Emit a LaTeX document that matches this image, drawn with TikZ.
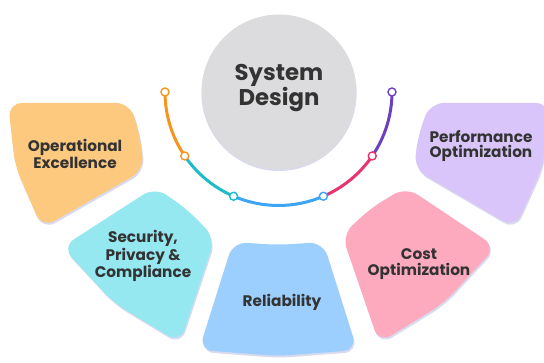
\documentclass[tikz,border=0pt]{standalone}
\usepackage{fontspec}
\setmainfont{Poppins}
\usetikzlibrary{calc}

\definecolor{ink}{HTML}{333333}
\definecolor{hubgray}{HTML}{DCDCDF}
\definecolor{softshadow}{HTML}{D8DAEE}
\definecolor{petalorange}{HTML}{FCC97F}
\definecolor{petalcyan}{HTML}{95E7F0}
\definecolor{petalblue}{HTML}{9CCEFE}
\definecolor{petalpink}{HTML}{FDA9BE}
\definecolor{petalpurple}{HTML}{D9C5F9}
\definecolor{arcorange}{HTML}{F7941D}
\definecolor{arcteal}{HTML}{1DBCC6}
\definecolor{arcblue}{HTML}{3DA5F2}
\definecolor{arcpink}{HTML}{E8336E}
\definecolor{arcpurple}{HTML}{6A3FC0}

\begin{document}
\begin{tikzpicture}[x=1pt,y=-1pt,
  petal/.style={rounded corners=14pt,
    preaction={fill=softshadow, transform canvas={xshift=1pt,yshift=-2pt}}},
  petaltext/.style={font=\bfseries\fontsize{15.3}{15.3}\selectfont, text=ink, align=center, inner sep=0pt},
  titletext/.style={font=\bfseries\fontsize{22.8}{24}\selectfont, text=ink, align=center, inner sep=0pt},
  track/.style={line width=3pt},
  knot/.style={circle, fill=white, line width=1.4pt, minimum size=8pt, inner sep=0pt}]

\useasboundingbox (0,0) rectangle (544,363);
\clip (0,0) rectangle (544,363);

% central hub
\fill[softshadow] (279,93.5) circle[radius=77.5];
\fill[hubgray] (279,92) circle[radius=77.5];

% five petals around the hub
\fill[petal, petalorange] (69,103) -- (130,103) -- (140,136) -- (144,170) -- (42,228) -- (15,166) -- (8,103) -- cycle;
\fill[petal, petalcyan] (108.5,217) -- (155,187) -- (188,210) -- (215,238) -- (180,343) -- (114,303) -- (62,247) -- cycle;
\fill[petal, petalblue] (216,296) -- (233,242) -- (278,245) -- (323,242) -- (357,350) -- (278,356) -- (199,350) -- cycle;
\fill[petal, petalpink] (451,217) -- (496,247) -- (444,303) -- (379,343) -- (342,235) -- (371,208) -- (406,187) -- cycle;
\fill[petal, petalpurple] (490,103) -- (550,103) -- (543,166) -- (515,228) -- (414,169) -- (418,136) -- (430,103) -- cycle;

% coloured track below the hub
\coordinate (c) at (278.5,92);
\coordinate (k0) at ($(c)+(180:113.5)$);
\coordinate (k1) at ($(c)+(145.7:113.5)$);
\coordinate (k2) at ($(c)+(113.3:113.5)$);
\coordinate (k3) at ($(c)+(66.7:113.5)$);
\coordinate (k4) at ($(c)+(34.3:113.5)$);
\coordinate (k5) at ($(c)+(0:113.5)$);
\draw[track, arcorange] (k0) arc[start angle=180, end angle=145.7, radius=113.5];
\draw[track, arcteal]   (k1) arc[start angle=145.7, end angle=113.3, radius=113.5];
\draw[track, arcblue]   (k2) arc[start angle=113.3, end angle=66.7, radius=113.5];
\draw[track, arcpink]   (k3) arc[start angle=66.7, end angle=34.3, radius=113.5];
\draw[track, arcpurple] (k4) arc[start angle=34.3, end angle=0, radius=113.5];
\node[knot, draw=arcorange] (n0) at (k0) {};
\node[knot, draw=arcorange] (n1) at (k1) {};
\node[knot, draw=arcteal]   (n2) at (k2) {};
\node[knot, draw=arcblue]   (n3) at (k3) {};
\node[knot, draw=arcpink]   (n4) at (k4) {};
\node[knot, draw=arcpurple] (n5) at (k5) {};

% labels
\node[titletext] (hub) at (279,88) {System\\Design};
\node[petaltext] (opex) at (75,154) {Operational\\Excellence};
\node[petaltext] (sec) at (143,256) {Security,\\Privacy \&\\Compliance};
\node[petaltext] (rel) at (282,302) {Reliability};
\node[petaltext] (cost) at (419,264) {Cost\\Optimization};
\node[petaltext] (perf) at (481,146) {Performance\\Optimization};
\end{tikzpicture}
\end{document}
